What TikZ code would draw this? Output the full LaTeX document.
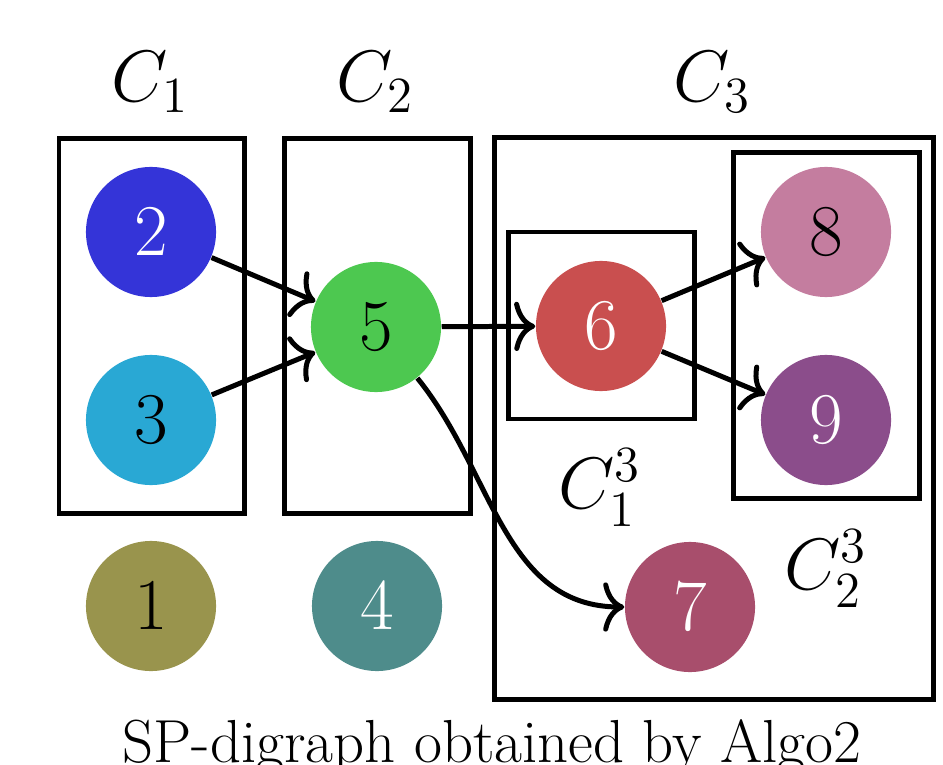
\documentclass[tikz,border=0pt]{standalone}
\usepackage{amsmath}
\usepackage{amsfonts}
\usepackage{amssymb}
\usetikzlibrary{arrows.meta}

\definecolor{cOne}{RGB}{153,148,77}
\definecolor{cTwo}{RGB}{52,52,216}
\definecolor{cThree}{RGB}{41,168,212}
\definecolor{cFour}{RGB}{78,140,139}
\definecolor{cFive}{RGB}{77,200,80}
\definecolor{cSix}{RGB}{201,79,79}
\definecolor{cSeven}{RGB}{168,78,108}
\definecolor{cEight}{RGB}{196,125,159}
\definecolor{cNine}{RGB}{139,77,139}

\begin{document}
\begin{tikzpicture}[
x=0.01cm,y=-0.01cm,
vnode/.style={
  circle,
  minimum size=1.3cm,
  inner sep=0pt,
  font=\huge
  },
clbox/.style={draw,line width=1.42pt},
every edge/.append style={line width=1.42pt,-{To[length=6pt,width=14pt]}}
]
\useasboundingbox (0,0) rectangle (943,764);
% the classes
\draw[clbox] (59,139) rectangle (244,513);
\draw[clbox] (284,139) rectangle (470,513);
\draw[clbox] (494,138) rectangle (933,699);
\draw[clbox] (508,232) rectangle (694,419);
\draw[clbox] (733,153) rectangle (919,498);
\node[anchor=base,font=\huge] (c1) at (150,102) {$C_1$};
\node[anchor=base,font=\huge] (c2) at (375,102) {$C_2$};
\node[anchor=base,font=\huge] (c3) at (712,102) {$C_3$};
\node[anchor=base,font=\huge] (c13) at (600,508) {$C_1^3$};
\node[anchor=base,font=\huge] (c23) at (826,589) {$C_2^3$};
% the vertices
\foreach \Name/\X/\Y/\Fill/\Text in {1/151/606/cOne/black,2/151/232/cTwo/white,
  3/151/420/cThree/black,4/377/606/cFour/white,5/376/327/cFive/black,
  6/601/326/cSix/white,7/690/607/cSeven/white,8/826/232/cEight/black,9/826/420/cNine/white}
  \node[vnode,fill=\Fill,text=\Text] (p\Name) at (\X,\Y) {$\Name$};
\path
	(p2) edge (p5)
	(p3) edge (p5)
	(p5) edge (p6)
	(p6) edge (p8)
	(p6) edge (p9)
	(p5) edge[out=-51,in=180] (p7);
\node[anchor=base,font=\LARGE] (cap) at (492,762) {SP-digraph obtained by Algo2};
\end{tikzpicture}
\end{document}
